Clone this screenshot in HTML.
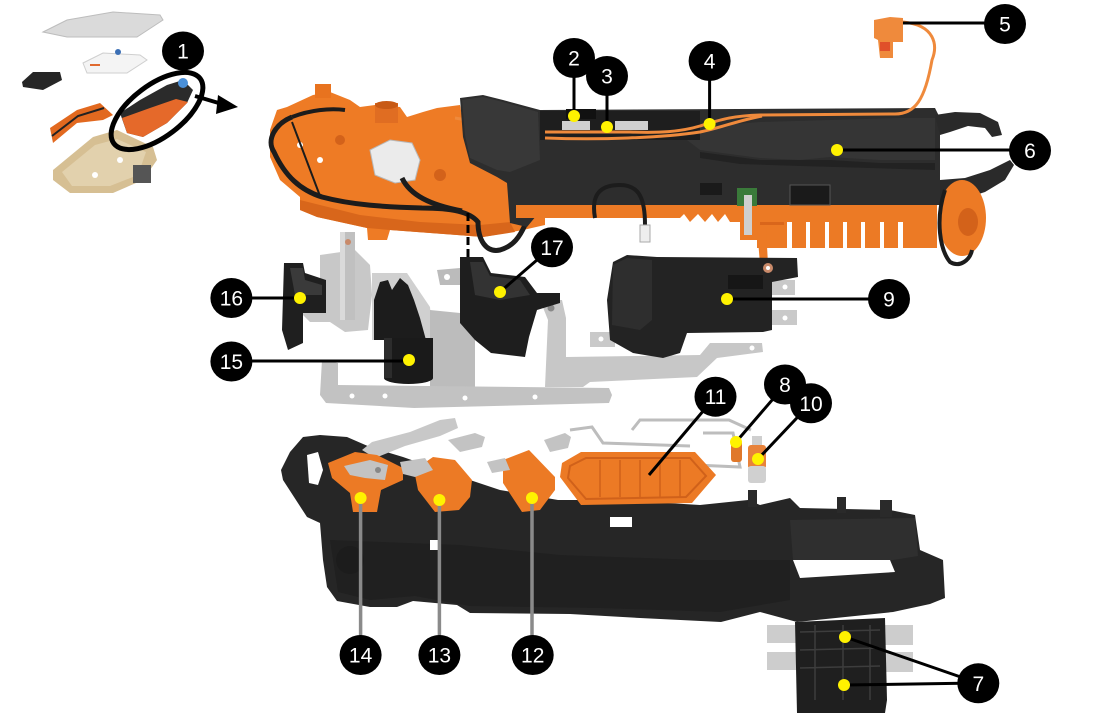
<!DOCTYPE html>
<html><head><meta charset="utf-8"><style>
html,body{margin:0;padding:0;background:#fff;}
svg{display:block;}
.n{font-family:"Liberation Sans",sans-serif;font-size:21px;fill:#fff;text-anchor:middle;}
</style></head><body>
<svg width="1096" height="721" viewBox="0 0 1096 721" xmlns="http://www.w3.org/2000/svg">
<rect width="1096" height="721" fill="#fff"/>

<!-- ===== Top-left thumbnail ===== -->
<polygon points="43,32 67,20 113,12 160,15 163,20 137,37 67,37" fill="#dadada" stroke="#bdbdbd"/>
<polygon points="83,63 103,53 140,55 147,60 127,73 87,73" fill="#f4f4f4" stroke="#cfcfcf"/>
<rect x="90" y="64" width="10" height="2" fill="#e06a30"/>
<circle cx="118" cy="52" r="3" fill="#3b6fb5"/>
<polygon points="22,82 33,72 60,72 62,80 43,90 23,87" fill="#262626"/>
<polygon points="50,128 77,110 100,103 113,115 103,120 77,123 53,143" fill="#e2691f"/>
<polyline points="52,136 78,116 104,108" fill="none" stroke="#222" stroke-width="2"/>
<polygon points="53,170 93,137 117,130 153,147 157,160 143,180 113,193 70,193 53,180" fill="#d6bf93"/>
<polygon points="62,172 95,145 117,139 146,152 138,175 110,186 72,186" fill="#e2d1ad"/>
<circle cx="95" cy="175" r="3" fill="#fff"/><circle cx="120" cy="160" r="3" fill="#fff"/>
<rect x="133" y="165" width="18" height="18" fill="#555"/>
<polygon points="120,113 140,100 167,85 183,80 193,90 187,103 167,123 143,137 127,133" fill="#2b2b2b"/>
<polygon points="122,118 150,108 176,99 188,102 167,123 143,137 127,133" fill="#e5692a"/>
<circle cx="183" cy="83" r="5" fill="#4a90d9"/>
<ellipse cx="157" cy="111" rx="54" ry="26" transform="rotate(-37 157 111)" fill="none" stroke="#000" stroke-width="5"/>
<line x1="195" y1="96" x2="222" y2="104" stroke="#000" stroke-width="4"/>
<polygon points="218,95 238,107 216,114" fill="#000"/>

<!-- ===== Top main assembly ===== -->
<!-- orange base left -->
<polygon points="270,130 277,110 287,107 313,95 330,92 350,100 360,107 375,105 400,107 407,117 423,112 437,108 460,105 470,160 510,180 515,222 545,214 545,225 523,230 483,237 457,235 390,230 387,240 368,240 367,228 317,217 300,210 300,197 280,180 270,157" fill="#ee7b25"/>
<polygon points="300,200 360,215 420,222 480,225 510,222 515,232 483,237 457,235 390,230 367,228 317,217 300,210" fill="#d8661b"/>
<rect x="315" y="84" width="16" height="14" fill="#e8731f"/>
<rect x="375" y="103" width="23" height="20" fill="#e06d22"/>
<ellipse cx="386.5" cy="105" rx="11.5" ry="4" fill="#c85a15"/>
<circle cx="340" cy="140" r="5" fill="#d3621a"/><circle cx="320" cy="160" r="3" fill="#fff"/>
<circle cx="440" cy="175" r="6" fill="#d3621a"/><circle cx="300" cy="145" r="3" fill="#fff"/>
<polygon points="370,150 390,140 412,143 420,160 415,180 395,183 375,175" fill="#ebebeb" stroke="#b9b9b9"/>
<!-- black wires on base -->
<path d="M292 117 C275 124 266 140 274 152 C285 176 300 190 322 197 C352 205 385 207 422 208 C452 208 470 212 478 222 C478 240 486 253 500 250 C514 246 520 236 525 225" fill="none" stroke="#1c1c1c" stroke-width="5"/>
<path d="M292 117 C310 110 330 108 345 110" fill="none" stroke="#1c1c1c" stroke-width="4"/>
<line x1="292" y1="122" x2="320" y2="196" stroke="#1c1c1c" stroke-width="2"/>
<path d="M402 178 C410 195 430 205 462 211" fill="none" stroke="#1c1c1c" stroke-width="5"/>
<path d="M455 118 C480 122 500 128 545 132" fill="none" stroke="#ef8a3c" stroke-width="3"/>
<!-- black cover -->
<polygon points="460,98 483,95 503,100 540,110 935,108 940,118 940,205 740,208 541,210 527,227 510,223 507,183 497,177 470,163 463,137" fill="#2d2d2d"/>
<polygon points="462,100 483,97 503,102 538,112 540,160 510,172 497,170 470,158 465,135" fill="#383838"/>
<polygon points="683,137 700,127 760,122 900,118 935,118 935,160 880,160 830,157 800,160 760,158 700,150" fill="#353535"/>
<polygon points="700,152 760,160 830,160 880,163 935,163 935,170 870,168 800,166 740,164 700,158" fill="#222"/>
<rect x="540" y="111" width="160" height="29" fill="#1e1e1e"/>
<rect x="562" y="121" width="28" height="9" fill="#cfcfcf"/>
<rect x="615" y="121" width="33" height="9" fill="#cfcfcf"/>
<rect x="566" y="109" width="30" height="10" fill="#111"/>
<!-- right prongs -->
<polygon points="935,115 955,112 980,113 998,122 1002,135 992,137 985,128 968,126 950,132 940,135" fill="#2a2a2a"/>
<polygon points="940,180 965,178 990,170 1010,160 1014,165 1005,180 985,192 960,200 940,203" fill="#2a2a2a"/>
<ellipse cx="962" cy="218" rx="24" ry="38" fill="#ec7a25"/>
<ellipse cx="968" cy="222" rx="10" ry="14" fill="#d3621a"/>
<path d="M945 190 C935 220 940 250 950 262 C960 268 970 260 972 250" fill="none" stroke="#1c1c1c" stroke-width="4"/>
<!-- orange under black -->
<polygon points="516,205 740,205 740,222 730,222 725,214 718,222 712,214 705,222 698,214 690,222 684,214 680,218 516,218" fill="#ec7a25"/>
<rect x="740" y="205" width="197" height="43" fill="#ec7a25"/>
<g fill="#fff">
<rect x="787" y="222" width="5" height="27"/><rect x="806" y="222" width="4" height="27"/>
<rect x="825" y="222" width="4" height="27"/><rect x="843" y="222" width="4" height="27"/>
<rect x="861" y="222" width="4" height="27"/><rect x="880" y="222" width="4" height="27"/>
<rect x="898" y="222" width="5" height="27"/><rect x="740" y="240" width="17" height="9"/>
</g>
<rect x="760" y="222" width="24" height="3" fill="#d9661b"/>
<rect x="737" y="188" width="20" height="18" fill="#3a7a3a"/>
<rect x="744" y="195" width="8" height="40" fill="#cfcfcf"/>
<polygon points="757,228 766,228 768,264 760,264" fill="#ec7a25"/>
<circle cx="768" cy="269" r="6" fill="#c98a6a"/><circle cx="768" cy="269" r="2" fill="#fff"/>
<rect x="790" y="185" width="40" height="20" fill="#1a1a1a" stroke="#555"/>
<rect x="700" y="183" width="22" height="12" fill="#1a1a1a"/>
<path d="M595 218 C590 190 605 185 620 185 C640 185 645 200 645 225" fill="none" stroke="#1c1c1c" stroke-width="4"/>
<rect x="640" y="225" width="10" height="17" fill="#eee" stroke="#aaa"/>
<!-- orange wires -->
<path d="M903 22 C935 25 938 45 932 60 C925 100 915 114 895 114 L760 115 C730 116 720 120 700 126 C680 132 660 133 630 132 L545 132" fill="none" stroke="#ef8a3c" stroke-width="3"/>
<path d="M545 138 C600 140 660 138 700 132 C720 128 740 120 762 116" fill="none" stroke="#ef8a3c" stroke-width="3"/>
<polygon points="874,20 890,17 903,18 903,42 893,42 893,58 880,58 878,40 874,38" fill="#ef8a3c"/>
<rect x="880" y="42" width="10" height="9" fill="#e0502a"/>
<!-- dashed line -->
<line x1="468" y1="213" x2="468" y2="300" stroke="#000" stroke-width="3" stroke-dasharray="8,4"/>

<!-- ===== Middle row ===== -->
<polygon points="320,255 355,250 370,265 372,295 368,330 345,332 330,322 310,322 300,312 320,300" fill="#c8c8c8"/>
<rect x="340" y="232" width="15" height="88" fill="#c0c0c0"/>
<rect x="340" y="232" width="5" height="88" fill="#dadada"/>
<circle cx="348" cy="242" r="3" fill="#c98a6a"/>
<polygon points="372,273 407,273 430,307 433,340 372,340" fill="#d0d0d0"/>
<polygon points="430,310 460,313 475,337 475,393 430,393" fill="#bcbcbc"/>
<polygon points="322,360 338,363 338,385 609,388 612,395 609,403 414,408 326,403 320,395" fill="#c2c2c2"/>
<g fill="#fff"><circle cx="352" cy="396" r="2.5"/><circle cx="385" cy="396" r="2.5"/><circle cx="465" cy="398" r="2.5"/><circle cx="535" cy="397" r="2.5"/></g>
<!-- 16 -->
<polygon points="284,263 303,263 305,273 326,280 326,313 303,313 303,343 288,350 282,330" fill="#1f1f1f"/>
<polygon points="290,268 303,268 305,280 322,285 322,295 295,295" fill="#3a3a3a"/>
<!-- 15 -->
<polygon points="374,300 380,282 388,280 392,290 400,278 408,285 414,300 420,318 426,340 374,340" fill="#1c1c1c"/>
<rect x="384" y="338" width="49" height="40" fill="#1a1a1a"/>
<ellipse cx="408.5" cy="378" rx="24.5" ry="6" fill="#1a1a1a"/>
<rect x="384" y="338" width="8" height="40" fill="#2c2c2c"/>
<!-- 17 -->
<polygon points="437,270 460,268 460,285 440,285" fill="#bbb"/>
<circle cx="447" cy="277" r="3" fill="#fff"/>
<polygon points="540,300 562,300 566,318 566,357 700,355 710,343 762,343 763,352 717,358 697,377 590,382 583,387 545,387 548,320" fill="#c7c7c7"/>
<circle cx="551" cy="308" r="3.5" fill="#888"/>
<circle cx="752" cy="348" r="2.5" fill="#fff"/>
<polygon points="460,257 483,257 491,273 525,277 537,293 560,293 560,303 537,310 529,337 525,357 491,353 475,340 460,323" fill="#1e1e1e"/>
<polygon points="470,262 483,262 490,276 520,280 530,295 500,300 475,295" fill="#333"/>
<!-- 9 -->
<rect x="590" y="332" width="25" height="15" fill="#c9c9c9"/>
<circle cx="601" cy="339" r="2.5" fill="#fff"/>
<rect x="772" y="280" width="23" height="15" fill="#c9c9c9"/>
<rect x="772" y="310" width="25" height="15" fill="#c9c9c9"/>
<circle cx="785" cy="287" r="2.5" fill="#fff"/><circle cx="785" cy="318" r="2.5" fill="#fff"/>
<polygon points="613,262 627,255 657,257 797,258 798,277 772,282 772,330 763,332 687,333 680,353 663,358 633,353 610,340 607,300" fill="#232323"/>
<polygon points="613,265 627,258 652,260 652,320 640,330 612,325" fill="#2e2e2e"/>
<rect x="728" y="275" width="35" height="14" fill="#161616"/>
<circle cx="768" cy="268" r="5" fill="#c98a6a"/><circle cx="768" cy="268" r="2" fill="#fff"/>

<!-- ===== Bottom housing ===== -->
<polygon points="281,470 290,452 303,437 320,435 347,437 370,447 403,457 440,470 470,480 500,490 558,500 620,500 700,505 748,500 760,505 790,498 800,508 890,510 915,515 920,550 943,560 945,598 930,604 893,612 797,622 760,612 721,622 640,618 570,614 470,613 457,605 413,601 397,607 370,607 337,601 327,587 323,560 320,523 307,517 283,480" fill="#262626"/>
<polygon points="330,540 460,545 560,555 700,560 790,560 790,600 720,612 600,608 470,606 415,596 370,600 338,592" fill="#202020"/>
<polygon points="790,520 915,518 918,556 893,560 793,560" fill="#2f2f2f"/>
<polygon points="793,560 890,560 895,572 800,578" fill="#fff"/>
<polygon points="307,455 318,452 323,470 318,485 309,483" fill="#fff"/>
<rect x="610" y="517" width="22" height="10" fill="#fff"/>
<rect x="430" y="540" width="8" height="10" fill="#fff"/>
<rect x="748" y="490" width="9" height="17" fill="#2a2a2a"/>
<rect x="837" y="497" width="9" height="16" fill="#2a2a2a"/>
<rect x="880" y="500" width="12" height="17" fill="#2a2a2a"/>
<circle cx="350" cy="560" r="14" fill="#1c1c1c"/>
<!-- 7 -->
<rect x="767" y="625" width="30" height="18" fill="#cdcdcd"/>
<rect x="767" y="652" width="30" height="18" fill="#cdcdcd"/>
<rect x="885" y="625" width="28" height="20" fill="#cdcdcd"/>
<rect x="885" y="652" width="28" height="20" fill="#cdcdcd"/>
<polygon points="795,622 885,618 887,700 885,713 797,713" fill="#1f1f1f"/>
<g stroke="#3d3d3d" stroke-width="1.5" fill="none">
<path d="M800 632 L880 630 M800 650 L880 648 M800 668 L880 666 M815 625 L815 700 M843 625 L843 700 M870 625 L870 700"/>
</g>
<!-- orange pieces -->
<polygon points="362,450 372,442 410,432 440,420 455,418 458,428 440,436 405,446 375,458" fill="#c8c8c8"/>
<polygon points="328,463 355,452 377,455 403,468 403,480 381,490 377,512 353,512 350,493 332,478" fill="#ec7a25"/>
<polygon points="344,466 370,460 388,465 385,480 365,478 350,475" fill="#c3c3c3"/>
<circle cx="378" cy="470" r="3" fill="#888"/>
<polygon points="448,440 475,433 485,437 482,447 460,452" fill="#c3c3c3"/>
<polygon points="414,470 433,457 455,460 472,480 470,497 459,510 435,512 418,490" fill="#ec7a25"/>
<polygon points="400,462 425,458 433,470 415,477 403,474" fill="#c3c3c3"/>
<polygon points="544,440 565,433 571,437 568,448 550,452" fill="#c3c3c3"/>
<polygon points="503,460 529,450 555,477 555,490 540,510 522,512 503,483" fill="#ec7a25"/>
<polygon points="487,462 505,458 510,470 492,473" fill="#c3c3c3"/>
<!-- 11 -->
<polyline points="570,430 592,427 603,443 690,446" fill="none" stroke="#bdbdbd" stroke-width="3"/>
<polyline points="632,430 640,420 729,420 751,430" fill="none" stroke="#bdbdbd" stroke-width="3"/>
<polyline points="703,433 733,433 740,467 695,465" fill="none" stroke="#bdbdbd" stroke-width="3"/>
<polygon points="562,463 581,452 695,452 716,475 692,503 581,505 560,477" fill="#ec7a25"/>
<polygon points="570,466 586,458 690,458 706,476 686,497 586,499 568,478" fill="none" stroke="#d0611a" stroke-width="2"/>
<g stroke="#d0611a" stroke-width="1.5"><line x1="600" y1="460" x2="600" y2="497"/><line x1="620" y1="460" x2="620" y2="497"/><line x1="640" y1="460" x2="640" y2="497"/><line x1="660" y1="460" x2="660" y2="497"/><line x1="680" y1="460" x2="680" y2="497"/></g>
<!-- 8, 10 -->
<rect x="731" y="440" width="11" height="22" rx="3" fill="#e0782a"/>
<rect x="752" y="436" width="10" height="11" fill="#cfcfcf"/>
<rect x="748" y="445" width="18" height="24" rx="3" fill="#e8823a"/>
<rect x="748" y="466" width="18" height="17" rx="3" fill="#d0d0d0"/>

<!-- ===== Leader lines ===== -->
<g stroke="#000" stroke-width="3" fill="none">
<line x1="574" y1="70" x2="574" y2="116"/>
<line x1="607" y1="85" x2="607" y2="127"/>
<line x1="709.6" y1="70" x2="709.6" y2="124"/>
<line x1="903" y1="23" x2="990" y2="23"/>
<line x1="837" y1="150" x2="1015" y2="150"/>
<line x1="727" y1="299" x2="875" y2="299"/>
<line x1="231" y1="298" x2="300" y2="298"/>
<line x1="231" y1="361" x2="409" y2="361"/>
<line x1="552" y1="247" x2="500" y2="292"/>
<line x1="715" y1="397" x2="649" y2="475"/>
<line x1="785" y1="385" x2="736" y2="442"/>
<line x1="811" y1="403" x2="758" y2="459"/>
<line x1="978" y1="683" x2="845" y2="637"/>
<line x1="978" y1="683" x2="844" y2="685"/>
</g>
<g stroke="#8a8a8a" stroke-width="3.5">
<line x1="360.6" y1="498" x2="360.6" y2="640"/>
<line x1="439.4" y1="500" x2="439.4" y2="640"/>
<line x1="532" y1="498" x2="532" y2="640"/>
</g>

<!-- ===== Yellow dots ===== -->
<g fill="#fff200">
<circle cx="574" cy="116" r="6"/><circle cx="607" cy="127" r="6"/><circle cx="709.6" cy="124" r="6"/>
<circle cx="837" cy="150" r="6"/><circle cx="727" cy="299" r="6"/><circle cx="300" cy="298" r="6"/>
<circle cx="409" cy="360" r="6"/><circle cx="500" cy="292" r="6"/><circle cx="736" cy="442" r="6"/>
<circle cx="758" cy="459" r="6"/><circle cx="845" cy="637" r="6"/><circle cx="844" cy="685" r="6"/>
<circle cx="360.6" cy="498" r="6"/><circle cx="439.4" cy="500" r="6"/><circle cx="532" cy="498" r="6"/>
</g>

<!-- ===== Number circles ===== -->
<g fill="#000">
<ellipse cx="183" cy="51" rx="21" ry="19.5"/>
<ellipse cx="574" cy="58" rx="21" ry="20"/>
<ellipse cx="607" cy="76" rx="21" ry="20"/>
<ellipse cx="709.6" cy="61" rx="21" ry="20"/>
<ellipse cx="1005" cy="24" rx="21" ry="20"/>
<ellipse cx="1030" cy="150.5" rx="21" ry="20"/>
<ellipse cx="889" cy="299" rx="21" ry="20"/>
<ellipse cx="231.4" cy="298" rx="21" ry="20"/>
<ellipse cx="231.4" cy="361.5" rx="21" ry="20"/>
<ellipse cx="552" cy="247.3" rx="21" ry="20"/>
<ellipse cx="715.5" cy="396.7" rx="21" ry="20"/>
<ellipse cx="785" cy="384.5" rx="21" ry="20"/>
<ellipse cx="811" cy="403.3" rx="21" ry="20"/>
<ellipse cx="978.3" cy="683.3" rx="21" ry="20"/>
<ellipse cx="360.6" cy="655" rx="21" ry="20"/>
<ellipse cx="439.4" cy="655" rx="21" ry="20"/>
<ellipse cx="532.7" cy="655" rx="21" ry="20"/>
</g>
<g class="n">
<text x="183" y="58.5">1</text>
<text x="574" y="65.5">2</text>
<text x="607" y="83.5">3</text>
<text x="709.6" y="68.5">4</text>
<text x="1005" y="31.5">5</text>
<text x="1030" y="158">6</text>
<text x="889" y="306.5">9</text>
<text x="231.4" y="305.5">16</text>
<text x="231.4" y="369">15</text>
<text x="552" y="254.8">17</text>
<text x="715.5" y="404.2">11</text>
<text x="785" y="392">8</text>
<text x="811" y="410.8">10</text>
<text x="978.3" y="690.8">7</text>
<text x="360.6" y="662.5">14</text>
<text x="439.4" y="662.5">13</text>
<text x="532.7" y="662.5">12</text>
</g>
</svg>
</body></html>
